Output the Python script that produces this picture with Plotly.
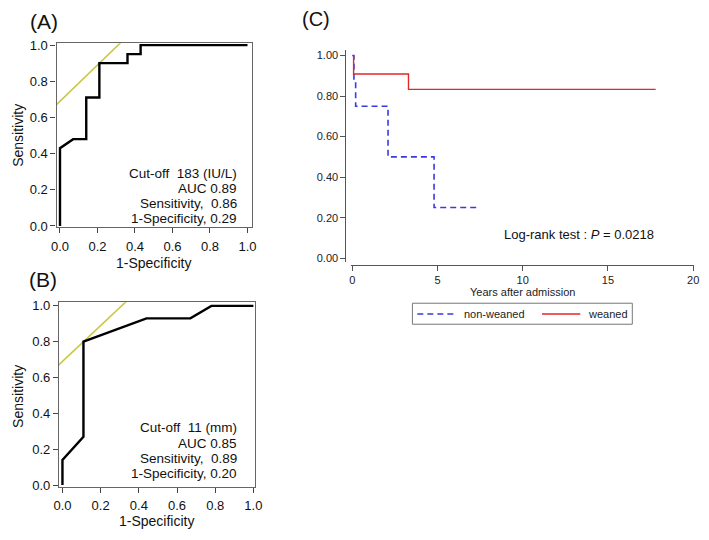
import plotly.graph_objects as go

W, H = 709, 540

# ---------------- data ----------------
rocA_fpr = [0.0, 0.0, 0.07, 0.14, 0.14, 0.21, 0.21, 0.36, 0.36, 0.43, 0.43, 1.0]
rocA_tpr = [0.0, 0.43, 0.48, 0.48, 0.71, 0.71, 0.90, 0.90, 0.95, 0.95, 1.0, 1.0]
rocB_fpr = [0.0, 0.0, 0.11, 0.11, 0.44, 0.67, 0.78, 1.0]
rocB_tpr = [0.0, 0.14, 0.27, 0.80, 0.93, 0.93, 1.0, 1.0]
ref_x = [-0.1, 0.5]
ref_intercept = 0.69

km_nonweaned_t = [0.0, 0.1, 0.1, 0.2, 0.2, 2.1, 2.1, 4.8, 4.8, 7.3]
km_nonweaned_s = [1.0, 1.0, 0.875, 0.875, 0.75, 0.75, 0.5, 0.5, 0.25, 0.25]
km_weaned_t = [0.08, 0.08, 3.3, 3.3, 17.8]
km_weaned_s = [1.0, 0.909, 0.909, 0.833, 0.833]
km_names = ["non-weaned", "weaned"]

roc_ticks = [0.0, 0.2, 0.4, 0.6, 0.8, 1.0]
km_yticks = [0.0, 0.2, 0.4, 0.6, 0.8, 1.0]
km_xticks = [0, 5, 10, 15, 20]

textA = ["Cut-off  183 (IU/L)", "AUC 0.89", "Sensitivity,  0.86", "1-Specificity, 0.29"]
textB = ["Cut-off  11 (mm)", "AUC 0.85", "Sensitivity,  0.89", "1-Specificity, 0.20"]

FONT = "Liberation Sans, Arial, sans-serif"
BLUE = "#3a3ae0"
RED = "#e02828"
BLUE_DASH = "6px,4px"


def px(x):
    return x / W


def py(y):
    return 1 - y / H


fig = go.Figure()

# ROC A
fig.add_trace(go.Scatter(x=ref_x, y=[v + ref_intercept for v in ref_x], mode="lines",
                         line=dict(color="#c9c845", width=1.6), xaxis="x", yaxis="y", showlegend=False))
fig.add_trace(go.Scatter(x=rocA_fpr, y=rocA_tpr, mode="lines",
                         line=dict(color="black", width=2.4), xaxis="x", yaxis="y", showlegend=False))
# ROC B
fig.add_trace(go.Scatter(x=ref_x, y=[v + ref_intercept for v in ref_x], mode="lines",
                         line=dict(color="#c9c845", width=1.6), xaxis="x2", yaxis="y2", showlegend=False))
fig.add_trace(go.Scatter(x=rocB_fpr, y=rocB_tpr, mode="lines",
                         line=dict(color="black", width=2.4), xaxis="x2", yaxis="y2", showlegend=False))
# KM
fig.add_trace(go.Scatter(x=km_nonweaned_t, y=km_nonweaned_s, mode="lines", name=km_names[0],
                         line=dict(color=BLUE, width=1.6, dash=BLUE_DASH), xaxis="x3", yaxis="y3",
                         showlegend=False))
fig.add_trace(go.Scatter(x=km_weaned_t, y=km_weaned_s, mode="lines", name=km_names[1],
                         line=dict(color=RED, width=1.4), xaxis="x3", yaxis="y3", showlegend=False))

roc_axis = dict(showline=True, linecolor="#666666", linewidth=1.2, mirror=True,
                ticks="outside", ticklen=5, tickcolor="#444444", showgrid=False, zeroline=False,
                tickvals=roc_ticks, ticktext=[f"{v:.1f}" for v in roc_ticks],
                tickfont=dict(family=FONT, size=13, color="#111111"))

# A: 0 at 55px, 1 at 246px ; y: 1 at 41px, 0 at 226px
axA_x = dict(roc_axis, domain=[px(51.5), px(250.5)], anchor="y",
             range=[-3.5 / 191, 1 + 4.5 / 191], ticklabelstandoff=2)
axA_y = dict(roc_axis, domain=[py(227), py(39)], anchor="x",
             range=[-1 / 185, 1 + 2 / 185], ticklabelstandoff=0)
# B: 0 at 57.5px, 1 at 252px ; y: 1 at 307.7px, 0 at 491px
axB_x = dict(roc_axis, domain=[px(54), px(254)], anchor="y2",
             range=[-3.5 / 194.5, 1 + 2 / 194.5], ticklabelstandoff=1)
axB_y = dict(roc_axis, domain=[py(493), py(304)], anchor="x2",
             range=[-2 / 183.3, 1 + 3.7 / 183.3], ticklabelstandoff=0)

km_tickfont = dict(family=FONT, size=11, color="#222222")
axC_x = dict(domain=[px(351), px(701)], anchor="free", position=py(265.7),
             range=[-1.7 / 17.365, 20 + 1 / 17.365],
             showline=True, linecolor="#555555", linewidth=1, ticks="outside", ticklen=5,
             tickcolor="#555555", showgrid=False, zeroline=False,
             tickvals=km_xticks, tickfont=km_tickfont)
axC_y = dict(domain=[py(263), py(45.7)], anchor="free", position=px(345.7),
             range=[-4 / 207.3, 1 + 6 / 207.3],
             showline=True, linecolor="#555555", linewidth=1, ticks="outside", ticklen=5,
             tickcolor="#555555", showgrid=False, zeroline=False,
             tickvals=km_yticks, ticktext=[f"{v:.2f}" for v in km_yticks], tickfont=km_tickfont)

annotations = []
shapes = []


def add_text(x, y, text, size, xanchor="center", angle=0, color="#111111"):
    annotations.append(dict(x=px(x), y=py(y), xref="paper", yref="paper", text=text,
                            showarrow=False, xanchor=xanchor, yanchor="middle", textangle=angle,
                            font=dict(family=FONT, size=size, color=color)))


# panel labels
add_text(22, 17, "(A)", 21, xanchor="left")
add_text(21, 281, "(B)", 21, xanchor="left")
add_text(299, 14, "(C)", 20, xanchor="left")

# ROC axis titles
add_text(12, 133, "Sensitivity", 14, angle=-90)
add_text(150, 263.5, "1-Specificity", 14)
add_text(12, 400, "Sensitivity", 14, angle=-90)
add_text(153, 528, "1-Specificity", 14)

for i, (ya, yb) in enumerate(zip([172.5, 188, 203, 218.5], [432.5, 448, 463.5, 479])):
    add_text(237, ya, textA[i], 13.5, xanchor="right")
    add_text(237, yb, textB[i], 13.5, xanchor="right")

# KM annotations
add_text(526, 293.5, "Years after admission", 11, color="#222222")
add_text(662, 235, "Log-rank test : <i>P</i> = 0.0218", 13, xanchor="right")

# manual legend for KM
shapes.append(dict(type="rect", xref="paper", yref="paper", x0=px(414), x1=px(638),
                   y0=py(326.5), y1=py(305), line=dict(color="#777777", width=1),
                   fillcolor="white"))
shapes.append(dict(type="line", xref="paper", yref="paper", x0=px(419), x1=px(459),
                   y0=py(316), y1=py(316), line=dict(color=BLUE, width=1.6, dash=BLUE_DASH)))
shapes.append(dict(type="line", xref="paper", yref="paper", x0=px(546), x1=px(585),
                   y0=py(316), y1=py(316), line=dict(color=RED, width=1.4)))
add_text(465, 316, km_names[0], 11, xanchor="left", color="#222222")
add_text(591, 316, km_names[1], 11, xanchor="left", color="#222222")

fig.update_layout(
    width=W, height=H,
    margin=dict(l=0, r=0, t=0, b=0),
    paper_bgcolor="white", plot_bgcolor="white",
    xaxis=axA_x, yaxis=axA_y,
    xaxis2=axB_x, yaxis2=axB_y,
    xaxis3=axC_x, yaxis3=axC_y,
    annotations=annotations,
    shapes=shapes,
    showlegend=False,
)

fig.write_html("out.html", config={"displayModeBar": False},
               post_script="document.body.style.margin='0';")
